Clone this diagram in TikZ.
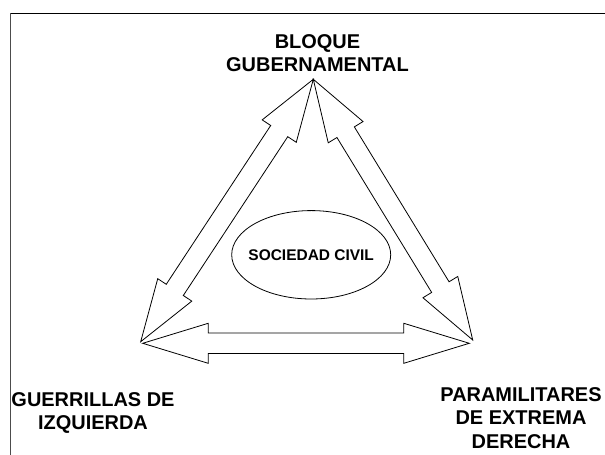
\documentclass[tikz,border=0pt]{standalone}
\usepackage{fontspec}
\setmainfont{Liberation Sans}
\usetikzlibrary{calc}

% double headed block arrow: from, to, head length, half head width, half shaft width
\newcommand{\dblarrow}[5]{%
  \draw [line width=0.02cm] (#1)
    -- ($(#1)!#3!(#2)!#4!90:(#2)$) -- ($(#1)!#3!(#2)!#5!90:(#2)$)
    -- ($(#2)!#3!(#1)!#5!-90:(#1)$) -- ($(#2)!#3!(#1)!#4!-90:(#1)$)
    -- (#2)
    -- ($(#2)!#3!(#1)!#4!90:(#1)$) -- ($(#2)!#3!(#1)!#5!90:(#1)$)
    -- ($(#1)!#3!(#2)!#5!-90:(#2)$) -- ($(#1)!#3!(#2)!#4!-90:(#2)$)
    -- cycle;}

\begin{document}
\begin{tikzpicture}[
    actor/.style={align=center, anchor=base, inner sep=0pt,
      font=\fontsize{14.2}{16.6}\selectfont\bfseries},
    civiltext/.style={inner sep=0pt, font=\fontsize{11}{13}\selectfont\bfseries}]
                        \useasboundingbox (0,0) rectangle (15.125,11.375);
                        {

                        % Frame lines
                        \draw [line width=0.025cm] (0.250000,11.042500) -- (15.125000,11.042500);%
                        \draw [line width=0.02cm, black!70] (0.250000,11.042500) -- (0.250000,0.000000);%

                        % Corner points
                        \coordinate (gob) at (7.832500,9.392500);%
                        \coordinate (guerL) at (3.517500,2.832500);%
                        \coordinate (guerB) at (3.567500,2.792500);%
                        \coordinate (paraL) at (11.817500,2.875000);%
                        \coordinate (paraB) at (11.732500,2.792500);%

                        % Drawing arrow gob guer
                        \dblarrow{gob}{guerL}{1.55cm}{0.51cm}{0.255cm}%

                        % Drawing arrow gob para
                        \dblarrow{gob}{paraL}{1.55cm}{0.51cm}{0.255cm}%

                        % Drawing arrow guer para
                        \dblarrow{guerB}{paraB}{1.6375cm}{0.5cm}{0.2575cm}%

                        % Marking sociedad civil by ellipse
                        \draw [line width=0.02cm] (7.780000,5.005000) ellipse [x radius=1.987500, y radius=1.105000];%
                        \draw (7.780000,5.005000) node [civiltext] (civil) {SOCIEDAD CIVIL};%

                        % Marking the three actors (base is the last line)
                        \draw (7.937500,9.582500) node [actor] (bloque) {BLOQUE\\GUBERNAMENTAL};%
                        \draw (2.325000,0.625000) node [actor] (guerrillas) {GUERRILLAS DE\\IZQUIERDA};%
                        \draw (13.025000,0.167500) node [actor] (paramilitares) {PARAMILITARES\\DE EXTREMA\\DERECHA};%
                        }
                    \end{tikzpicture}
\end{document}
